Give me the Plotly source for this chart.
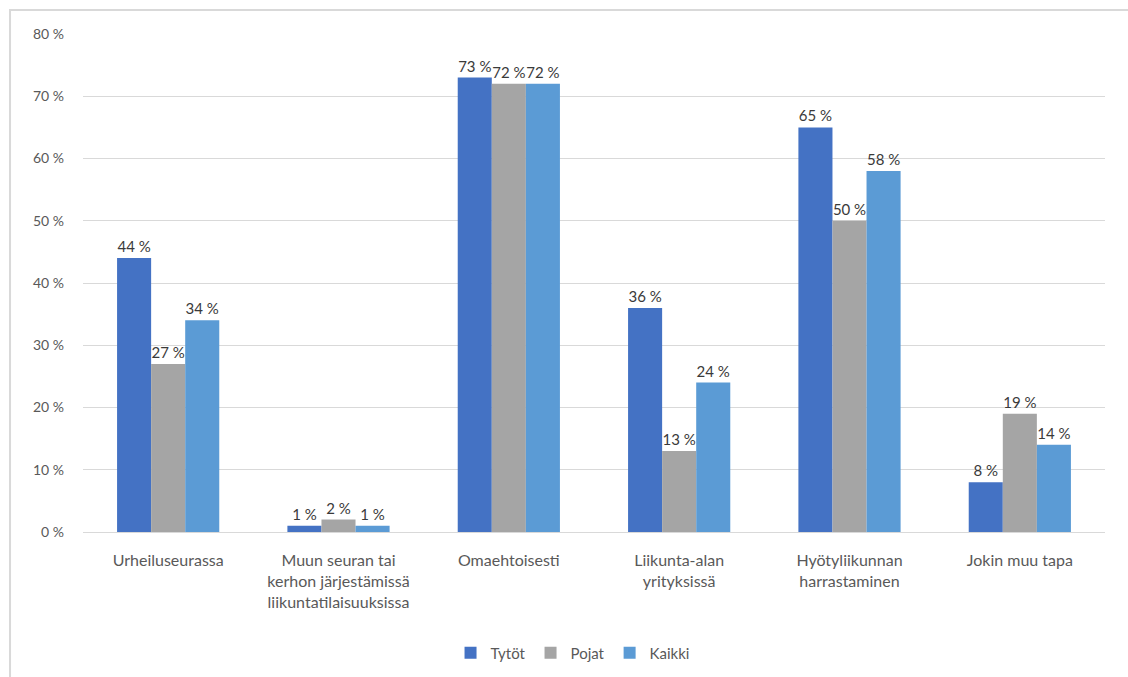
import plotly.graph_objects as go

categories = [
    "Urheiluseurassa",
    "Muun seuran tai<br>kerhon järjestämissä<br>liikuntatilaisuuksissa",
    "Omaehtoisesti",
    "Liikunta-alan<br>yrityksissä",
    "Hyötyliikunnan<br>harrastaminen",
    "Jokin muu tapa",
]
tytot = [44, 1, 73, 36, 65, 8]
pojat = [27, 2, 72, 13, 50, 19]
kaikki = [34, 1, 72, 24, 58, 14]
tick_vals = [0, 10, 20, 30, 40, 50, 60, 70, 80]
tick_text = [f"{v} %" for v in tick_vals]

series = [
    ("Tytöt", tytot, "#4472C4"),
    ("Pojat", pojat, "#A5A5A5"),
    ("Kaikki", kaikki, "#5B9BD5"),
]

FONT = "Lato, Open Sans, sans-serif"

fig = go.Figure()
for name, vals, color in series:
    fig.add_trace(go.Bar(
        name=name,
        x=categories,
        y=vals,
        marker=dict(color=color, line=dict(width=0)),
        text=[f"{v} %" for v in vals],
        textposition="outside",
        constraintext="none",
        cliponaxis=False,
        textfont=dict(family=FONT, size=15, color="#3A3A3A"),
    ))

# Outer chart frame
fig.add_shape(type="rect", xref="paper", yref="paper",
              x0=-0.0714, x1=1.05, y0=-0.35, y1=1.0482,
              line=dict(color="#D9D9D9", width=2), fillcolor="rgba(0,0,0,0)",
              layer="below")

fig.update_layout(
    width=1128, height=677,
    margin=dict(l=83, r=23, t=34, b=145, autoexpand=False),
    paper_bgcolor="white",
    plot_bgcolor="white",
    barmode="group",
    bargap=0.4,
    bargroupgap=0,
    font=dict(family=FONT, size=14, color="#595959"),
    legend=dict(orientation="h", x=0.479, xanchor="center", y=-0.243,
                yanchor="middle", font=dict(family=FONT, size=15, color="#595959"),
                itemwidth=30, traceorder="normal"),
    yaxis=dict(range=[0, 80], tickvals=tick_vals, ticktext=tick_text,
               showgrid=True, gridcolor="#D9D9D9", gridwidth=1, automargin=False,
               zeroline=False, showline=False, ticks="", ticklabelstandoff=18,
               tickfont=dict(family=FONT, size=14, color="#595959")),
    xaxis=dict(showgrid=False, showline=True, linecolor="#D9D9D9", linewidth=1,
               automargin=False,
               ticks="", tickfont=dict(family=FONT, size=16, color="#595959"),
               ticklabelstandoff=14),
)

fig.write_html("out.html")
